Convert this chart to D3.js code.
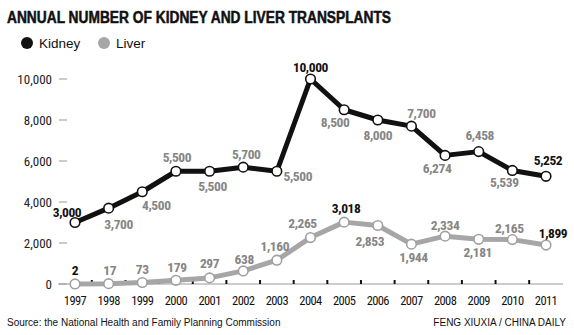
<!DOCTYPE html>
<html><head><meta charset="utf-8">
<script src="https://cdn.jsdelivr.net/npm/d3@7"></script>
<style>
html,body{margin:0;padding:0;background:#fff;}
svg{display:block;}
</style></head>
<body>
<svg id="c" width="574" height="335"></svg>
<script>
const years = ["1997","1998","1999","2000","2001","2002","2003","2004","2005","2006","2007","2008","2009","2010","2011"];
const kidney = [3000,3700,4500,5500,5500,5700,5500,10000,8500,8000,7700,6274,6458,5539,5252];
const liver = [2,17,73,179,297,638,1160,2265,3018,2853,1944,2334,2181,2165,1899];
const yTicks = [0,2000,4000,6000,8000,10000];
const highlightIdx = {kidney:[0,7,14], liver:[0,8,14]};
// label placement offsets (dx, dy from point to label centre, px)
const kidneyLabelPos = [[-8,-11],[10,16],[14,13],[1,-14],[3,15],[3,-13],[21,5],[0,-12],[-9,12],[0,15],[10,-13],[-8,13],[1,-17],[-8,12],[2,-16]];
const liverLabelPos = [[0,-14],[1,-14],[0,-14],[1,-13],[0,-15],[1,-12],[-2,-14],[-8,-15],[2,-14],[-8,15],[2,13],[0,-11],[-1,13],[-3,-12],[7,-12]];

const svg = d3.select("#c");
const FONT = "'Liberation Sans Narrow','Roboto Condensed','Liberation Sans',Arial,sans-serif";
const x = d3.scalePoint().domain(years).range([75,546]);
const y = d3.scaleLinear().domain([0,10000]).range([284,79]);

// title
svg.append("text").attr("x",7).attr("y",22.5)
  .attr("font-family","'Liberation Sans',Arial,sans-serif").attr("font-weight","bold")
  .attr("font-size",16).attr("textLength",384).attr("lengthAdjust","spacingAndGlyphs")
  .attr("fill","#111").attr("stroke","#111").attr("stroke-width",0.5).text("ANNUAL NUMBER OF KIDNEY AND LIVER TRANSPLANTS");

// legend
const legend = [{name:"Kidney",color:"#111",cx:27},{name:"Liver",color:"#a6a6a6",cx:104}];
legend.forEach(l=>{
  svg.append("circle").attr("cx",l.cx).attr("cy",43).attr("r",6).attr("fill",l.color);
  svg.append("text").attr("x",l.cx+12).attr("y",48).attr("font-family","'Liberation Sans',Arial,sans-serif")
    .attr("font-size",13.5).attr("fill","#111").text(l.name);
});

// y axis labels and dashes
const yg = svg.append("g");
yTicks.forEach(t=>{
  yg.append("text").attr("x",52).attr("y",y(t)+5).attr("text-anchor","end")
    .attr("font-family",FONT).attr("font-size",13).attr("fill","#222")
    .text(d3.format(",")(t));
  yg.append("line").attr("x1",59).attr("x2",67).attr("y1",y(t)).attr("y2",y(t))
    .attr("stroke","#999").attr("stroke-width",1);
});

// x axis baseline
svg.append("line").attr("x1",58).attr("x2",563).attr("y1",y(0)).attr("y2",y(0))
  .attr("stroke","#999").attr("stroke-width",1.2);
// ticks between categories
const step = x.step();
years.slice(0,-1).forEach(yr=>{
  const tx = x(yr)+step/2;
  svg.append("line").attr("x1",tx).attr("x2",tx).attr("y1",y(0)).attr("y2",y(0)-4)
    .attr("stroke","#111").attr("stroke-width",2);
});
// x labels
years.forEach(yr=>{
  svg.append("text").attr("x",x(yr)).attr("y",305).attr("text-anchor","middle")
    .attr("font-family",FONT).attr("font-size",12.5).attr("letter-spacing",-0.6).attr("fill","#111").text(yr);
});

function drawSeries(vals, color, strokeCol, labelPos, hi){
  const line = d3.line().x((d,i)=>x(years[i])).y(d=>y(d));
  svg.append("path").datum(vals).attr("d",line).attr("fill","none")
    .attr("stroke",color).attr("stroke-width",5).attr("stroke-linejoin","round");
  svg.selectAll(null).data(vals).enter().append("circle")
    .attr("cx",(d,i)=>x(years[i])).attr("cy",d=>y(d)).attr("r",4.8)
    .attr("fill","#fff").attr("stroke",strokeCol).attr("stroke-width",1.6);
  svg.selectAll(null).data(vals).enter().append("text")
    .attr("x",(d,i)=>x(years[i])+labelPos[i][0])
    .attr("y",(d,i)=>y(d)+labelPos[i][1]+5)
    .attr("text-anchor","middle")
    .attr("font-family",FONT).attr("font-weight","bold").attr("font-size",13.5)
    .attr("letter-spacing",-0.4)
    .attr("fill",(d,i)=>hi.includes(i)?"#111":"#858585")
    .text(d=>d3.format(",")(d));
}
drawSeries(liver,"#a6a6a6","#a0a0a0",liverLabelPos,highlightIdx.liver);
drawSeries(kidney,"#111","#111",kidneyLabelPos,highlightIdx.kidney);

// footer
svg.append("text").attr("x",7).attr("y",326).attr("font-family","'Liberation Sans',Arial,sans-serif")
  .attr("font-size",10).attr("fill","#111").text("Source: the National Health and Family Planning Commission");
svg.append("text").attr("x",566).attr("y",326).attr("text-anchor","end").attr("font-family","'Liberation Sans Narrow','Liberation Sans',Arial,sans-serif")
  .attr("font-size",10).attr("fill","#111").text("FENG XIUXIA / CHINA DAILY");
</script>
</body></html>
